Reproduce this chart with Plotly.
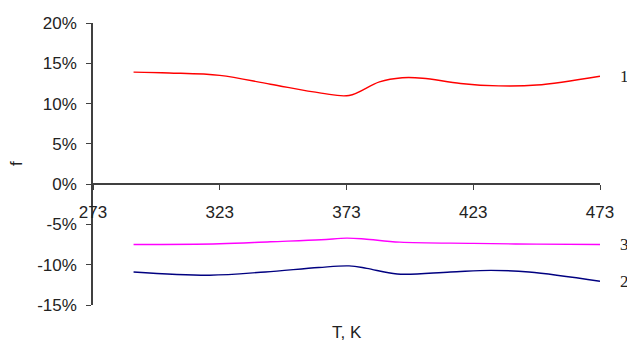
import plotly.graph_objects as go

# Curve 1 (red)
t1 = [289, 303, 323, 343, 363, 374, 386, 395, 403, 418, 433, 448, 473]
f1 = [13.9, 13.8, 13.5, 12.4, 11.3, 11.0, 12.7, 13.2, 13.15, 12.5, 12.2, 12.3, 13.4]

# Curve 2 (navy)
t2 = [289, 319, 341, 362, 374, 381, 393, 414, 430, 445, 473]
f2 = [-10.9, -11.3, -10.9, -10.35, -10.15, -10.45, -11.15, -10.9, -10.7, -10.9, -12.05]

# Curve 3 (magenta)
t3 = [289, 323, 343, 363, 373, 380, 394, 423, 448, 473]
f3 = [-7.5, -7.4, -7.15, -6.9, -6.7, -6.8, -7.2, -7.35, -7.45, -7.5]

x_ticks = [273, 323, 373, 423, 473]
y_ticks = [-15, -10, -5, 0, 5, 10, 15, 20]
y_ticktext = ["-15%", "-10%", "-5%", "0%", "5%", "10%", "15%", "20%"]

series = [
    ("1", t1, f1, "#ff0000"),
    ("3", t3, f3, "#ff00ff"),
    ("2", t2, f2, "#000080"),
]

fig = go.Figure()
for name, t, f, color in series:
    fig.add_trace(go.Scatter(
        x=t, y=f, mode="lines", name=name,
        line=dict(color=color, width=1.4, shape="spline", smoothing=1.0),
        showlegend=False,
    ))

axis_color = "#404040"
tick_font = dict(family="Liberation Sans, Arial, sans-serif", size=17, color="#222222")

ymin, ymax = -15, 20
fig.update_layout(
    width=627, height=343,
    margin=dict(l=93, r=27, t=23, b=38),
    paper_bgcolor="white", plot_bgcolor="white",
    xaxis=dict(
        range=[273, 473], tickvals=x_ticks, ticktext=[str(v) for v in x_ticks],
        showgrid=False, zeroline=False,
        showline=True, linecolor=axis_color, linewidth=1.5,
        ticks="outside", ticklen=5, tickcolor=axis_color, tickwidth=1,
        anchor="free", position=(0 - ymin) / (ymax - ymin),
        tickfont=tick_font, ticklabelstandoff=8,
    ),
    yaxis=dict(
        range=[ymin, ymax], tickvals=y_ticks, ticktext=y_ticktext,
        showgrid=False, zeroline=False,
        showline=True, linecolor=axis_color, linewidth=1.5,
        ticks="outside", ticklen=5, tickcolor=axis_color, tickwidth=1,
        tickfont=tick_font, ticklabelstandoff=6,
    ),
)

# Axis titles
fig.add_annotation(text="f", xref="paper", yref="paper", x=-0.152, y=0.5035,
                   textangle=-90, showarrow=False, xanchor="center", yanchor="middle",
                   font=dict(family="Liberation Sans, Arial, sans-serif", size=17, color="#222222"))
fig.add_annotation(text="T, K", xref="paper", yref="paper", x=0.5, y=-0.098,
                   showarrow=False, xanchor="center", yanchor="middle",
                   font=dict(family="Liberation Sans, Arial, sans-serif", size=17, color="#222222"))

# Curve numbers at the right-hand end of each line
for name, t, f, color in series:
    fig.add_annotation(text=name, xref="paper", yref="y", x=1.035, y=f[-1],
                       showarrow=False, xanchor="left", yanchor="middle",
                       font=dict(family="Liberation Serif, Times New Roman, serif", size=17, color="#222222"))

fig.write_html("out.html")
